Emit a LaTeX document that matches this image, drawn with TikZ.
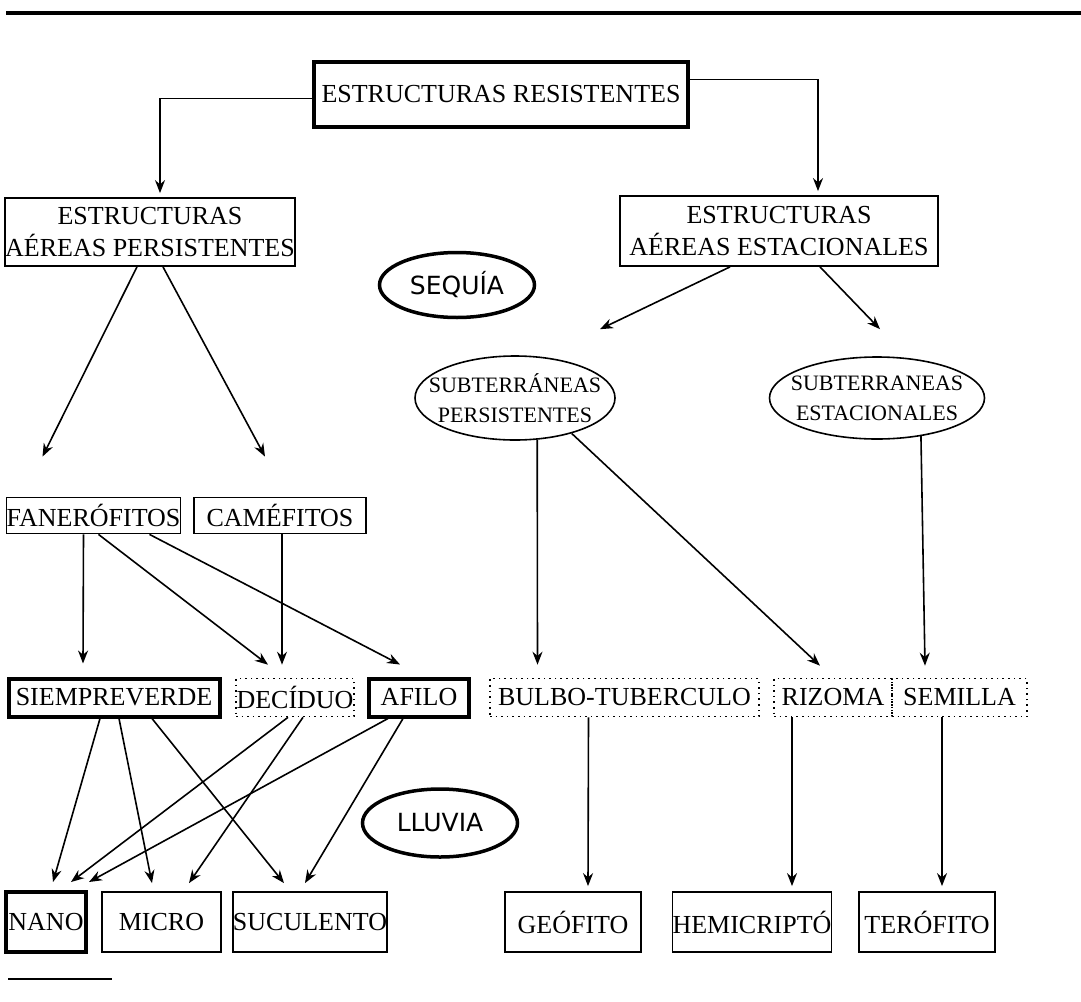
\documentclass[tikz,border=0pt]{standalone}
\usepackage{fontspec}
\setmainfont{Liberation Serif}
\newfontfamily\handfont{DejaVu Sans}
\usetikzlibrary{shapes.geometric, arrows.meta, calc}
\tikzstyle{arrow} = [line width=1.6pt,-{Stealth[length=13pt,width=10pt]}]
\tikzstyle{box} = [draw, line width=1.8pt, inner sep=0pt, align=center, font=\fontsize{26}{32}\selectfont]
\tikzstyle{boldbox} = [box, line width=4pt]
\tikzstyle{dotbox} = [box, line width=1.6pt, dash pattern=on 1.6pt off 4pt]
\tikzstyle{oval} = [draw, ellipse, line width=1.6pt, inner sep=0pt]
\tikzstyle{ovaltext} = [align=center, font=\fontsize{22}{30}\selectfont]
\tikzstyle{climate} = [draw, ellipse, line width=3.5pt, inner sep=0pt, font=\handfont\fontsize{25}{28}\selectfont]

\begin{document}
\begin{tikzpicture}[x=1pt,y=1pt,yscale=-1]
\useasboundingbox (0,0) rectangle (1081,1001);

% page rules
\draw [line width=4pt] (6,13) -- (1081,13);
\draw [line width=2pt] (8,979) -- (112,979);

% top level
\node [boldbox, minimum width=374, minimum height=65] (root) at (501,94.5) {ESTRUCTURAS RESISTENTES};
\node [box, minimum width=290, minimum height=68] (aerp) at (150,232) {ESTRUCTURAS\\AÉREAS PERSISTENTES};
\node [box, minimum width=318, minimum height=70] (aere) at (779,231) {ESTRUCTURAS\\AÉREAS ESTACIONALES};
\node [climate, minimum width=155, minimum height=65] (sequia) at (457,285) {SEQUÍA};

% underground organs
\node [oval, minimum width=200, minimum height=84, label={[ovaltext]center:{SUBTERRÁNEAS\\PERSISTENTES}}] (subp) at (515,398) {};
\node [oval, minimum width=215, minimum height=82, label={[ovaltext]center:{SUBTERRANEAS\\ESTACIONALES}}] (sube) at (877,398) {};

% second level
\node [box, minimum width=173, minimum height=36] (fan) at (93.5,515.5) {FANERÓFITOS};
\node [box, minimum width=172, minimum height=36] (cam) at (280,515.5) {CAMÉFITOS};

% third level
\node [boldbox, minimum width=211, minimum height=38] (siem) at (114,697.5) {SIEMPREVERDE};
\node [dotbox, minimum width=118, minimum height=38] (deci) at (295,697.5) {DECÍDUO};
\node [boldbox, minimum width=100, minimum height=38] (afilo) at (419,697.5) {AFILO};
\node [dotbox, minimum width=269, minimum height=38] (bulbo) at (624.5,697.5) {BULBO-TUBERCULO};
\node [dotbox, minimum width=118, minimum height=38] (rizoma) at (833,697.5) {RIZOMA};
\node [dotbox, minimum width=135, minimum height=38] (semilla) at (959.5,697.5) {SEMILLA};

\node [climate, minimum width=155, minimum height=68] (lluvia) at (440,823) {LLUVIA};

% life forms
\node [boldbox, minimum width=80, minimum height=60] (nano) at (46,922) {NANO};
\node [box, minimum width=119, minimum height=60] (micro) at (161.5,922) {MICRO};
\node [box, minimum width=152, minimum height=60] (suc) at (310,922) {SUCULENTO};
\node [box, minimum width=136, minimum height=60] (geo) at (573,922) {GEÓFITO};
\node [box, minimum width=152, minimum height=60] (hemi) at (752,922) {HEMICRIPTÓ};
\node [box, minimum width=136, minimum height=60] (tero) at (927,922) {TERÓFITO};

% connectors
\draw [arrow] ($(root.west)+(0,4)$) -| ($(aerp.north)+(10,-4)$);
\draw [arrow] ($(root.east)+(0,-15)$) -| ($(aere.north)+(39,-4)$);

\draw [arrow] ($(aerp.south)+(-13,0)$) -- ($(fan.north)+(-51,-40)$);
\draw [arrow] ($(aerp.south)+(13,0)$) -- ($(cam.north)+(-15,-40)$);
\draw [arrow] ($(aere.south)+(-49,0)$) -- ($(subp.north)+(85,-26)$);
\draw [arrow] ($(aere.south)+(41,0)$) -- ($(sube.north)+(3,-27)$);

\draw [arrow] ($(fan.south)+(-10,0)$) -- ($(siem.north)+(-31,-13)$);
\draw [arrow] ($(fan.south)+(5,0)$) -- ($(deci.north)+(-27,-13)$);
\draw [arrow] ($(fan.south)+(56,0)$) -- ($(afilo.north)+(-19,-12)$);
\draw [arrow] ($(cam.south)+(2,0)$) -- ($(deci.north)+(-13,-13)$);

\draw [arrow] (subp.-62) -- ($(bulbo.north)+(-87,-13)$);
\draw [arrow] (subp.-32) -- ($(rizoma.north)+(-13,-12)$);
\draw [arrow] (sube.-41) -- ($(semilla.north)+(-34.5,-12)$);

\draw [arrow] ($(siem.south)+(-14,0)$) -- ($(nano.north)+(7,-8)$);
\draw [arrow] ($(siem.south)+(5,0)$) -- ($(micro.north)+(-9.5,-8)$);
\draw [arrow] ($(siem.south)+(38,0)$) -- ($(suc.north)+(-26,-8)$);
\draw [arrow] ($(deci.south)+(-7,0)$) -- ($(nano.north)+(25,-8)$);
\draw [arrow] ($(deci.south)+(8,0)$) -- ($(micro.north)+(27.5,-8)$);
\draw [arrow] ($(afilo.south)+(-31,0)$) -- ($(nano.north)+(43,-8)$);
\draw [arrow] ($(afilo.south)+(-16,0)$) -- ($(suc.north)+(-5,-8)$);

\draw [arrow] ($(bulbo.south)+(-36,0)$) -- ($(geo.north)+(15,-5)$);
\draw [arrow] ($(rizoma.south)+(-41,0)$) -- ($(hemi.north)+(40,-5)$);
\draw [arrow] ($(semilla.south)+(-17.5,0)$) -- ($(tero.north)+(15,-5)$);

\end{tikzpicture}
\end{document}
